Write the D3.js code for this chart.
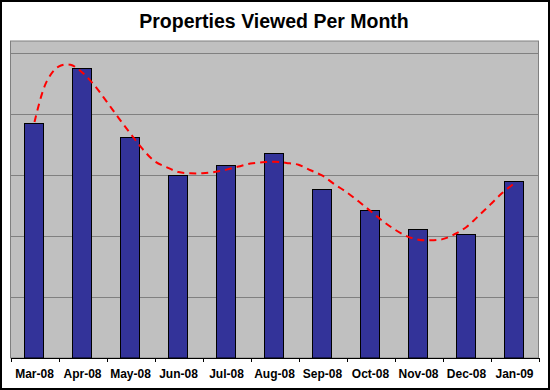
<!DOCTYPE html>
<html>
<head>
<meta charset="utf-8">
<script src="https://cdn.jsdelivr.net/npm/d3@7"></script>
<style>
  body { margin: 0; background: #fff; }
  svg { display: block; }
</style>
</head>
<body>
<div id="chart"></div>
<script>
const months = ["Mar-08", "Apr-08", "May-08", "Jun-08", "Jul-08", "Aug-08",
  "Sep-08", "Oct-08", "Nov-08", "Dec-08", "Jan-09"];
const views = [385, 476, 362, 300, 316, 336, 277, 242, 211, 204, 291];

// polynomial trendline at quarter-month steps
const trendPos = [0, 0.25, 0.5, 0.75, 1, 1.25, 1.5, 1.75, 2, 2.25, 2.5, 2.75, 3, 3.25,
  3.5, 3.75, 4, 4.25, 4.5, 4.75, 5, 5.25, 5.5, 5.75, 6, 6.25, 6.5, 6.75, 7, 7.25,
  7.5, 7.75, 8, 8.25, 8.5, 8.75, 9, 9.25, 9.5, 9.75, 10];
const trendVal = [387, 453, 478, 481, 468, 447, 421, 394, 368, 343, 323, 313, 305, 303,
  303, 305, 309, 314, 319, 321, 322, 320, 317, 308, 299, 285, 272, 257, 241, 225,
  211, 200, 194, 193, 195, 203, 215, 233, 252, 271, 287];

const gridTicks = [100, 200, 300, 400, 500];

const W = 550, H = 390;
const plot = { left: 10.5, right: 538.5, top: 41, bottom: 358 };

const svg = d3.select("#chart").append("svg")
  .attr("width", W)
  .attr("height", H);

svg.append("rect")
  .attr("x", 1).attr("y", 1)
  .attr("width", W - 2).attr("height", H - 2)
  .attr("fill", "#fff")
  .attr("stroke", "#000")
  .attr("stroke-width", 2);

svg.append("text")
  .attr("x", W / 2 - 1)
  .attr("y", 28)
  .attr("text-anchor", "middle")
  .style("font-family", "'Liberation Sans', Arial, sans-serif")
  .style("font-weight", "bold")
  .style("font-size", "19.5px")
  .text("Properties Viewed Per Month");

const xScale = d3.scaleBand()
  .domain(months)
  .range([plot.left, plot.right])
  .padding(0);

const yScale = d3.scaleLinear()
  .domain([0, 520])
  .range([plot.bottom, plot.top]);

const trendX = d3.scaleLinear()
  .domain([0, months.length - 1])
  .range([xScale(months[0]) + xScale.bandwidth() / 2,
          xScale(months[months.length - 1]) + xScale.bandwidth() / 2]);

// plot area
svg.append("rect")
  .attr("x", plot.left)
  .attr("y", plot.top)
  .attr("width", plot.right - plot.left)
  .attr("height", plot.bottom - plot.top)
  .attr("fill", "#c0c0c0")
  .attr("stroke", "#808080")
  .attr("stroke-width", 1);

svg.append("g")
  .selectAll("line")
  .data(gridTicks)
  .join("line")
  .attr("x1", plot.left)
  .attr("x2", plot.right)
  .attr("y1", d => Math.round(yScale(d)) + 0.5)
  .attr("y2", d => Math.round(yScale(d)) + 0.5)
  .attr("stroke", "#808080")
  .attr("stroke-width", 1);

// bars
const barW = xScale.bandwidth() * 0.39;
svg.append("g")
  .selectAll("rect")
  .data(views)
  .join("rect")
  .attr("x", (d, i) => Math.round(xScale(months[i]) + xScale.bandwidth() / 2 - barW / 2) - 0.5)
  .attr("y", d => Math.round(yScale(d)) + 0.5)
  .attr("width", Math.round(barW))
  .attr("height", d => yScale(0) - Math.round(yScale(d)) - 0.5)
  .attr("fill", "#333399")
  .attr("stroke", "#000")
  .attr("stroke-width", 1);

// x axis
const xAxis = svg.append("g")
  .attr("transform", `translate(0,${plot.bottom})`)
  .call(d3.axisBottom(xScale).tickSize(0).tickPadding(11));

xAxis.select(".domain").attr("stroke", "#000");
xAxis.selectAll(".tick text")
  .style("font-family", "'Liberation Sans', Arial, sans-serif")
  .style("font-weight", "bold")
  .style("font-size", "12px")
  .attr("fill", "#000");

svg.append("g")
  .selectAll("line")
  .data(months.concat(["end"]))
  .join("line")
  .attr("x1", (d, i) => Math.round(plot.left + i * xScale.step()) + 0.5)
  .attr("x2", (d, i) => Math.round(plot.left + i * xScale.step()) + 0.5)
  .attr("y1", plot.bottom)
  .attr("y2", plot.bottom + 4)
  .attr("stroke", "#000");

// trendline
const trend = trendPos.map((p, i) => ({ p: p, v: trendVal[i] }));
svg.append("path")
  .datum(trend)
  .attr("fill", "none")
  .attr("stroke", "#ff0000")
  .attr("stroke-width", 2)
  .attr("stroke-dasharray", "7,5")
  .attr("d", d3.line()
    .x(d => trendX(d.p))
    .y(d => yScale(d.v))
    .curve(d3.curveCatmullRom.alpha(0.5)));
</script>
</body>
</html>
